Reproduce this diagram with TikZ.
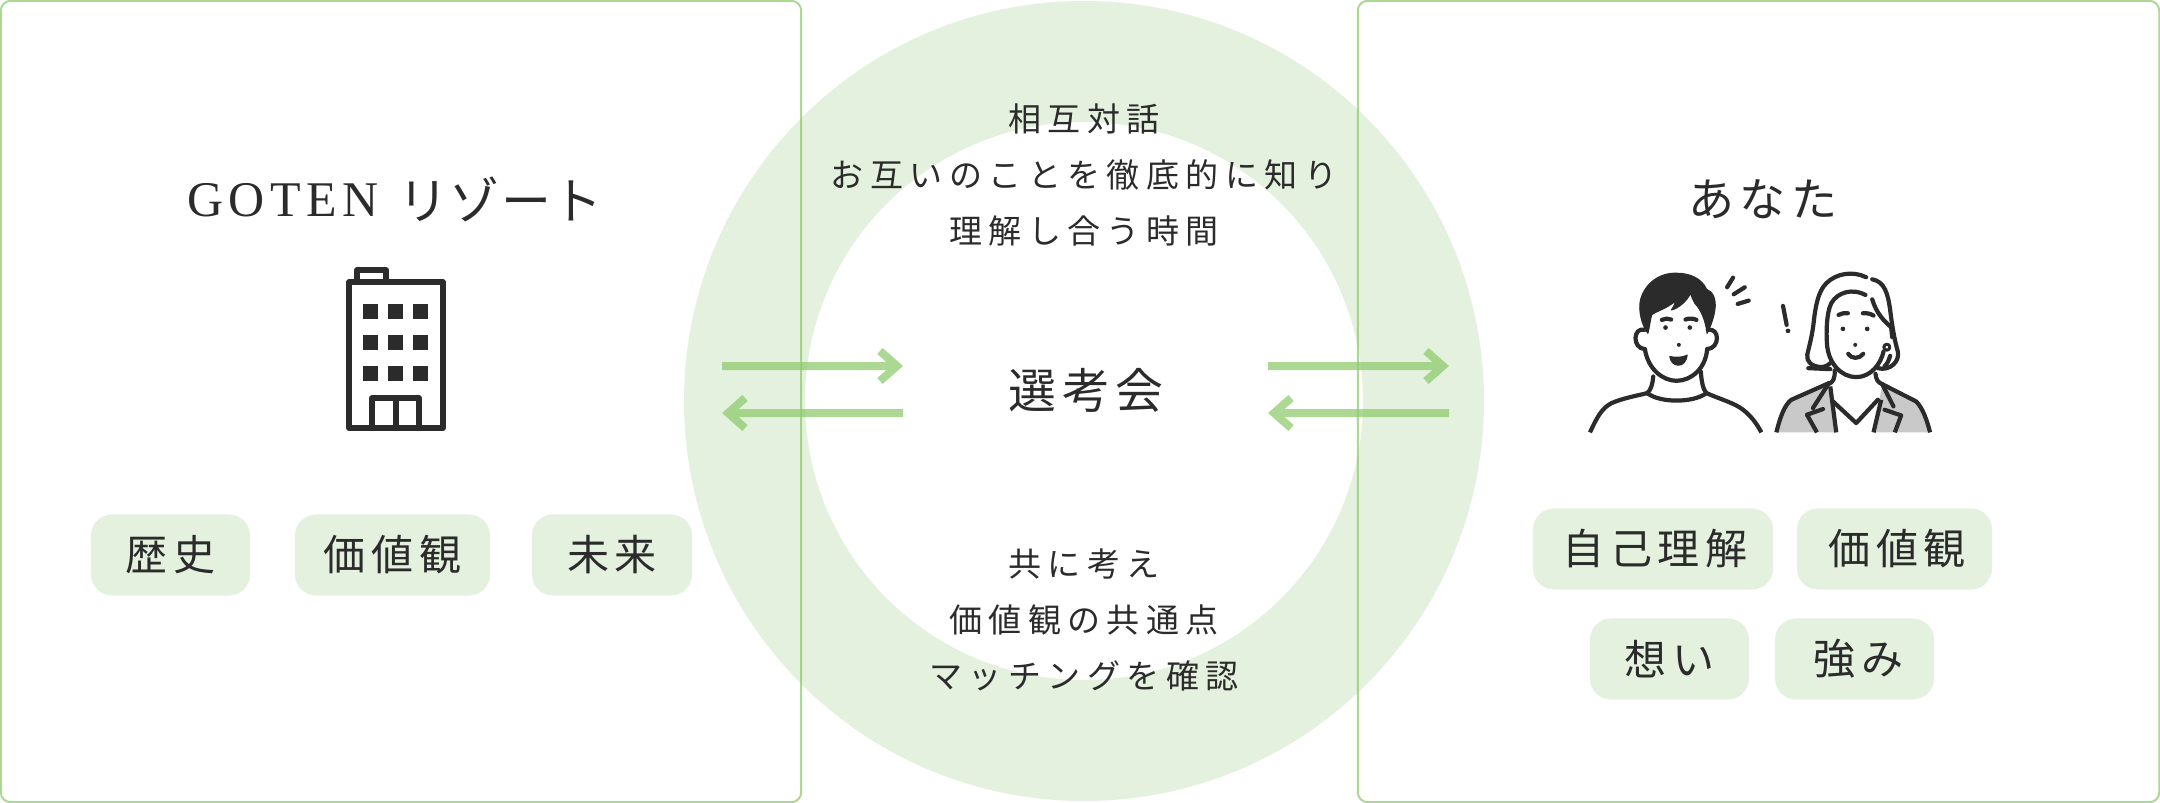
\documentclass[tikz,border=0pt]{standalone}
\usepackage{fontspec}
\usetikzlibrary{arrows.meta}
\setmainfont{Noto Sans CJK JP}
\newfontfamily\jpsp[LetterSpace=19.5]{Noto Sans CJK JP}
\newfontfamily\jppill[LetterSpace=14]{Noto Sans CJK JP}
\newfontfamily\jptitle[LetterSpace=3]{Noto Sans CJK JP}
\newfontfamily\jpname[LetterSpace=11]{Noto Sans CJK JP}
\newfontfamily\jpcenter[LetterSpace=12]{Noto Sans CJK JP}
\newfontfamily\latintitle[LetterSpace=11]{Liberation Serif}
\definecolor{ringc}{HTML}{E4F1DE}
\definecolor{linec}{HTML}{8FCB6F}
\definecolor{inkc}{HTML}{2B2B2B}
\definecolor{jacketc}{HTML}{C9C9C9}
\tikzset{
  panel/.style={draw=linec,draw opacity=.75,line width=.02cm,rounded corners=.1cm,inner sep=0,fill=none},
  pill/.style={fill=ringc,rounded corners=.21cm,inner sep=0,text=inkc,font=\jppill\fontsize{11.95}{14}\selectfont},
  bodytext/.style={inner sep=0,align=center,text=inkc,font=\jpsp\fontsize{9.39}{15.93}\selectfont},
  titletext/.style={inner sep=0,text=inkc},
  flow/.style={line width=.08cm,draw=linec,-{Straight Barb[length=.17cm,width=.30cm,line width=.08cm]}},
  ic/.style={line width=.052cm,draw=inkc,line join=round},
  pp/.style={line width=.042cm,draw=inkc,line cap=round,line join=round},
}
\begin{document}
\begin{tikzpicture}[x=.01cm,y=-.01cm]
\useasboundingbox (0,0) rectangle (2160,803);
% ring
\fill[ringc,even odd rule] (1084,401) circle[x radius=400,y radius=400] (1084,401) circle[x radius=279,y radius=279];
% panels
\node[panel,minimum width=8cm,minimum height=8.01cm] (leftpanel) at (401,401.5) {};
\node[panel,minimum width=8.01cm,minimum height=8.01cm] (rightpanel) at (1758.5,401.5) {};
% titles
\node[titletext] (lefttitle) at (395,199) {\fontsize{14.2}{16}\selectfont\latintitle\raisebox{.03cm}{GOTEN}\hspace{.40em}\jptitle リゾート};
\node[titletext,font=\jpname\fontsize{13.1}{16}\selectfont] (righttitle) at (1763,199.5) {あなた};
% centre texts
\node[bodytext] (toptext) at (1084,175) {相互対話\\お互いのことを徹底的に知り\\理解し合う時間};
\node[bodytext] (bottomtext) at (1084,620) {共に考え\\価値観の共通点\\マッチングを確認};
\node[inner sep=0,text=inkc,font=\jpcenter\fontsize{13.6}{16}\selectfont] (centertext) at (1086,390) {選考会};
% arrows
\coordinate (a1s) at (722,366); \coordinate (a1e) at (903,366);
\coordinate (a2s) at (903,413); \coordinate (a2e) at (722,413);
\coordinate (a3s) at (1268,366); \coordinate (a3e) at (1449,366);
\coordinate (a4s) at (1449,413); \coordinate (a4e) at (1268,413);
\begin{scope}[transparency group,opacity=.75] \draw[flow] (a1s) -- (a1e); \end{scope}
\begin{scope}[transparency group,opacity=.75] \draw[flow] (a2s) -- (a2e); \end{scope}
\begin{scope}[transparency group,opacity=.75] \draw[flow] (a3s) -- (a3e); \end{scope}
\begin{scope}[transparency group,opacity=.75] \draw[flow] (a4s) -- (a4e); \end{scope}
% pills
\node[pill,minimum width=1.59cm,minimum height=.81cm] (p1) at (170.5,555) {\raisebox{-.01cm}{歴史}};
\node[pill,minimum width=1.95cm,minimum height=.81cm] (p2) at (392.5,555) {\raisebox{-.01cm}{価値観}\hspace{.05cm}};
\node[pill,minimum width=1.60cm,minimum height=.81cm] (p3) at (612,555) {\raisebox{-.01cm}{未来}};
\node[pill,minimum width=2.40cm,minimum height=.81cm] (p4) at (1653,549) {\hspace{.04cm}自己理解};
\node[pill,minimum width=1.95cm,minimum height=.81cm] (p5) at (1894.5,549) {\hspace{.05cm}価値観};
\node[pill,minimum width=1.59cm,minimum height=.81cm] (p6) at (1669.5,659) {想い\hspace{.02cm}};
\node[pill,minimum width=1.59cm,minimum height=.81cm] (p7) at (1854.5,659) {\hspace{.08cm}強み};
% building
\draw[ic] (357,282) -- (357,270) -- (386,270) -- (386,282);
\draw[ic] (349,282) rectangle (443,428);
\draw[ic] (372,428) -- (372,398) -- (419,398) -- (419,428) (396,398) -- (396,428);
\foreach \yy in {304,335,366}{\foreach \xx in {363,388,413}{\fill[inkc] (\xx,\yy) rectangle ++(15,15);}}
% people
\begin{scope}[shift={(1570,250)},x=.00333cm,y=-.00333cm]
% woman jacket
\fill[jacketc] (620,548) .. controls (632,500) and (645,465) .. (665,450) -- (778,400) -- (800,548) -- cycle;
\fill[jacketc] (912,548) -- (938,403) -- (1040,455) .. controls (1060,475) and (1072,510) .. (1082,548) -- cycle;
\draw[pp,line cap=butt] (620,548) .. controls (632,500) and (645,465) .. (665,450) -- (778,400);
\draw[pp,line cap=butt] (938,403) -- (1040,455) .. controls (1060,475) and (1072,510) .. (1082,548);
\draw[pp] (778,400) -- (730,475) (760,478) -- (712,495);
\draw[pp,line cap=butt] (712,495) -- (742,548);
\draw[pp] (938,403) -- (972,470) (945,480) -- (995,497);
\draw[pp,line cap=butt] (995,497) -- (976,548);
\draw[pp,line cap=butt] (782,410) -- (800,548) (935,450) -- (912,548);
\draw[pp] (790,455) -- (860,520) -- (925,450);
% woman neck
\draw[pp] (795,362) .. controls (797,385) and (790,398) .. (778,402);
\draw[pp] (918,372) .. controls (920,390) and (925,398) .. (938,403);
% woman hair
\draw[pp] (890,82) .. controls (850,62) and (800,70) .. (770,100) .. controls (745,125) and (738,170) .. (733,210) .. controls (728,260) and (718,290) .. (713,315) .. controls (710,335) and (725,350) .. (755,352) .. controls (770,350) and (778,345) .. (782,340);
\draw[pp] (716,355) -- (782,358);
\draw[pp] (888,135) .. controls (850,115) and (805,125) .. (785,160) .. controls (770,190) and (770,250) .. (772,280);
\draw[pp] (772,280) .. controls (775,340) and (815,382) .. (860,382) .. controls (905,382) and (935,340) .. (942,305);
\draw[pp] (908,88) .. controls (945,95) and (955,130) .. (962,180) .. controls (968,230) and (975,270) .. (985,305) .. controls (992,335) and (960,365) .. (925,355);
\draw[pp] (908,148) .. controls (920,190) and (945,215) .. (965,232) -- (968,262);
\draw[pp,line width=.03cm] (952,292) circle[x radius=9,y radius=9];
\draw[pp] (962,318) .. controls (958,330) and (955,340) .. (945,350);
\fill[inkc] (820,237) circle[x radius=7,y radius=7] (893,237) circle[x radius=7,y radius=7] (857,285) circle[x radius=6,y radius=6];
\draw[pp] (807,195) .. controls (815,190) and (825,189) .. (835,190);
\draw[pp] (880,190) .. controls (890,189) and (903,191) .. (912,197);
\draw[pp] (836,312) .. controls (845,328) and (870,328) .. (881,312);
% exclamation
\draw[pp] (640,168) -- (651,225);
\fill[inkc] (655,243) circle[x radius=7,y radius=7];
% motion lines
\draw[pp] (472,112) -- (490,83) (492,133) -- (525,112) (504,162) -- (537,152);
% man body
\draw[pp,line cap=butt] (60,548) .. controls (80,505) and (95,475) .. (125,460) .. controls (160,445) and (200,438) .. (232,430);
\draw[pp,line cap=butt] (410,430) .. controls (450,448) and (495,460) .. (520,480) .. controls (545,500) and (560,520) .. (575,548);
\draw[pp] (232,430) .. controls (270,460) and (370,460) .. (410,430);
\draw[pp] (250,380) .. controls (248,405) and (243,420) .. (232,430);
\draw[pp] (393,365) .. controls (395,395) and (400,420) .. (410,430);
% man face
\draw[pp] (225,298) .. controls (235,360) and (280,393) .. (320,393) .. controls (365,393) and (408,355) .. (412,298);
\draw[pp] (224,240) .. controls (190,230) and (185,295) .. (225,298);
\draw[pp] (414,240) .. controls (450,232) and (452,295) .. (412,298);
% man hair
\fill[inkc,draw=inkc,line width=.012cm,line join=round] (234,250) .. controls (215,225) and (205,180) .. (212,150) .. controls (225,100) and (270,68) .. (320,70) .. controls (360,70) and (395,85) .. (410,118) .. controls (430,125) and (440,150) .. (435,180) .. controls (432,205) and (420,235) .. (412,250) .. controls (408,215) and (395,180) .. (375,160) .. controls (370,150) and (365,140) .. (362,130) .. controls (350,155) and (325,175) .. (305,180) .. controls (312,170) and (316,160) .. (320,150) .. controls (295,175) and (255,185) .. (245,195) .. controls (240,215) and (238,235) .. (234,250) -- cycle;
\fill[inkc] (287,233) circle[x radius=7,y radius=7] (360,233) circle[x radius=7,y radius=7] (327,285) circle[x radius=6,y radius=6];
\draw[pp] (276,210) .. controls (285,205) and (295,205) .. (304,209);
\draw[pp] (347,209) .. controls (357,205) and (370,205) .. (380,210);
\fill[inkc,draw=inkc,line width=.012cm,line join=round] (300,320) .. controls (315,325) and (340,323) .. (352,316) .. controls (350,335) and (338,347) .. (325,346) .. controls (312,346) and (302,335) .. (300,320) -- cycle;
\end{scope}
\end{tikzpicture}
\end{document}
